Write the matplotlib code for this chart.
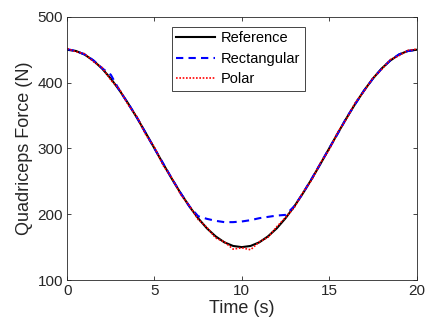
import matplotlib
matplotlib.use("Agg")
import matplotlib.pyplot as plt

t = [0, 0.5, 1, 1.5, 2, 2.5, 3, 3.5, 4, 4.5, 5, 5.5, 6, 6.5, 7, 7.5, 8, 8.5, 9, 9.5, 10,
     10.5, 11, 11.5, 12, 12.5, 13, 13.5, 14, 14.5, 15, 15.5, 16, 16.5, 17, 17.5, 18, 18.5, 19, 19.5, 20]

reference = [450, 448.2, 442.7, 433.6, 421.4, 406.1, 388.2, 368.1, 346.4, 323.5, 300,
             276.5, 253.6, 231.9, 211.8, 193.9, 178.6, 166.4, 157.3, 151.8, 150,
             151.8, 157.3, 166.4, 178.6, 193.9, 211.8, 231.9, 253.6, 276.5, 300,
             323.5, 346.4, 368.1, 388.2, 406.1, 421.4, 433.6, 442.7, 448.2, 450]

rectangular = [451, 448, 443, 434, 422, 412, 388, 368, 347, 323, 300,
               277, 254, 232, 212, 197, 193, 190, 188, 188, 189,
               191, 194, 196, 198, 199, 212, 232, 254, 277, 300,
               323, 347, 368, 388, 406, 421, 434, 443, 448, 450]

polar = [452, 447, 444, 432, 423, 404, 390, 366, 348, 321, 302,
         274, 255, 230, 213, 192, 180, 164, 158, 147, 149,
         146, 158, 165, 181, 195, 210, 233, 252, 278, 298,
         325, 345, 370, 387, 407, 420, 435, 441, 449, 451]

plt.rcParams['font.family'] = ['Liberation Sans', 'DejaVu Sans']
ax_color = '#262626'

fig = plt.figure(figsize=(4.25, 3.31), dpi=100)
ax = fig.add_axes([0.158, 0.154, 0.822, 0.795])

ax.plot(t, reference, color='black', lw=1.5, label='Reference')
ax.plot(t, rectangular, color='#0000ff', lw=1.5, ls=(0, (3.5, 2.5)), label='Rectangular')
ax.plot(t, polar, color='#ff0000', lw=1.2, ls=(0, (1, 1)), label='Polar')

ax.set_xlim(0, 20)
ax.set_ylim(100, 500)
ax.set_xticks([0, 5, 10, 15, 20])
ax.set_yticks([100, 200, 300, 400, 500])
ax.tick_params(direction='in', top=True, right=True, labelsize=11, colors=ax_color,
               length=3, width=0.6, pad=3)
for s in ax.spines.values():
    s.set_color(ax_color)
    s.set_linewidth(0.6)
ax.set_xlabel('Time (s)', fontsize=13, color=ax_color, labelpad=1)
ax.set_ylabel('Quadriceps Force (N)', fontsize=13, color=ax_color, labelpad=3)

leg = ax.legend(loc='upper center', bbox_to_anchor=(0.49, 0.99), fontsize=10.5,
                fancybox=False, framealpha=1, edgecolor=ax_color, handlelength=2.7,
                borderpad=0.3, labelspacing=0.45, handletextpad=0.4)
leg.get_frame().set_linewidth(0.6)

fig.savefig('out.png', dpi=100)
